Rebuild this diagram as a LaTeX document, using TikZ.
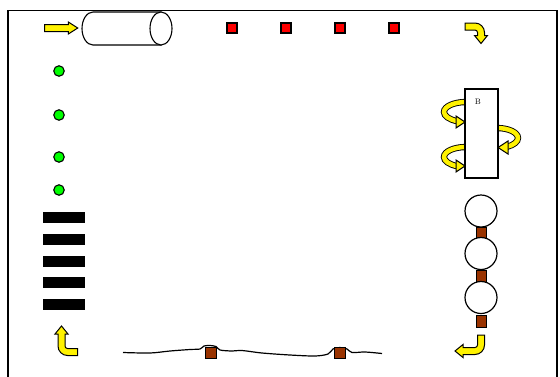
\documentclass[tikz,border=0pt]{standalone}
\usepackage{tikz}
\usetikzlibrary{shapes.geometric,shapes.arrows}

\definecolor{brick}{RGB}{153,51,0}
\tikzstyle{pipe} = [draw=black, fill=white, line width=1.1pt]
\tikzstyle{pusher} = [single arrow, draw=black, fill=yellow, line width=1pt, minimum height=33pt, minimum width=11pt, inner sep=3pt, single arrow head extend=2.5pt, single arrow tip angle=65]
\tikzstyle{redbox} = [rectangle, draw=black, fill=red, line width=1.1pt, minimum size=10pt, inner sep=0pt]
\tikzstyle{greendot} = [circle, draw=black, fill=green, line width=1.1pt, minimum size=10.5pt, inner sep=0pt]
\tikzstyle{bar} = [rectangle, fill=black, minimum width=42pt, minimum height=11pt, inner sep=0pt]
\tikzstyle{ball} = [circle, draw=black, fill=white, line width=1.2pt, minimum size=32pt, inner sep=0pt]
\tikzstyle{joint} = [rectangle, draw=black, fill=brick, line width=1pt, minimum width=10pt, minimum height=12pt, inner sep=0pt]
\tikzstyle{drum} = [rectangle, draw=black, fill=white, line width=1.1pt, minimum width=33pt, minimum height=89pt, inner sep=0pt]
\tikzstyle{spin} = [draw=black, line width=0.9pt, double=yellow, double distance=4.5pt]
\tikzstyle{spinhead} = [draw=black, fill=yellow, line width=1pt, line join=miter]

\tikzset{turnarrow/.pic={
	\draw[spinhead] (-12,-9.5) -- (-2,-9.5) arc[start angle=-90, end angle=0, radius=9.5] -- ++(0,#1) -- ++(3,0) -- (4,{#1+8}) -- (-2.5,#1) -- (0.5,#1) -- (0.5,0) arc[start angle=0, end angle=-90, radius=2.5] -- (-12,-2.5) -- cycle;
}}

\begin{document}
\begin{tikzpicture}[x=1pt, y=-1pt]
	\useasboundingbox (0,0) rectangle (560,376);
	\clip (0,0) rectangle (560,376);
	%frame
	\draw[line width=1.1pt] (8,380) -- (8,10.5) -- (557,10.5) -- (557,380);
	
	%top row
	\node[pusher] (feed) at (58.5,28) {};
	\draw[pipe] (93,12) arc[start angle=270, end angle=90, x radius=11, y radius=16.5] -- (161,45) -- (161,12) -- cycle;
	\draw[pipe] (161,28.5) ellipse [x radius=11, y radius=16.5];
	\node[redbox] (red1) at (232,28) {};
	\node[redbox] (red2) at (286,28) {};
	\node[redbox] (red3) at (340,28) {};
	\node[redbox] (red4) at (394,28) {};
	\pic at (477,32.5) {turnarrow=3};
	
	%drum with spin arrows
	\draw[spin] (466,102) arc[start angle=270, end angle=114, x radius=22, y radius=10];
	\draw[spin] (466,147) arc[start angle=270, end angle=114, x radius=22, y radius=10];
	\draw[spin] (497,128) arc[start angle=270, end angle=422, x radius=21, y radius=10];
	\node[drum] (drum) at (481.5,133.5) {};
	\node[font=\footnotesize] (drumlabel) at (478,102) {B};
	\draw[spinhead] (456,116) -- (465,122) -- (456,128) -- cycle;
	\draw[spinhead] (456,160) -- (465,166) -- (456,172) -- cycle;
	\draw[spinhead] (508,141) -- (498,147.5) -- (508,154) -- cycle;
	
	%right column
	\node[joint] (joint1) at (481,233) {};
	\node[joint] (joint2) at (481,276.5) {};
	\node[joint] (joint3) at (481,321) {};
	\node[ball] (ball1) at (481,211) {};
	\node[ball] (ball2) at (481,253.5) {};
	\node[ball] (ball3) at (481,297.5) {};
	\pic[rotate=-90] at (475,347) {turnarrow=12};
	
	%bottom belt
	\draw[line width=1.2pt] plot[smooth] coordinates {(123,352.5) (150,353) (170,351) (190,349.5) (200,349) (204,346) (210,345.5) (216,346.5) (220,350) (232,351) (242,350.5) (262,353) (290,355) (315,356) (328,354) (333,349) (340,347.5) (347,349) (352,352.5) (365,352) (382,353.5)};
	\node[joint, minimum width=11pt, minimum height=10.5pt] (belt1) at (210.5,353) {};
	\node[joint, minimum width=11pt, minimum height=10.5pt] (belt2) at (340,353) {};
	\pic[rotate=180] at (65.5,346) {turnarrow=12};
	
	%left column
	\node[bar] (bar1) at (64,217) {};
	\node[bar] (bar2) at (64,239) {};
	\node[bar] (bar3) at (64,261) {};
	\node[bar] (bar4) at (64,282) {};
	\node[bar] (bar5) at (64,304) {};
	\node[greendot] (dot1) at (59,71) {};
	\node[greendot] (dot2) at (59,115) {};
	\node[greendot] (dot3) at (59,157) {};
	\node[greendot] (dot4) at (59,190) {};
\end{tikzpicture}
\end{document}
